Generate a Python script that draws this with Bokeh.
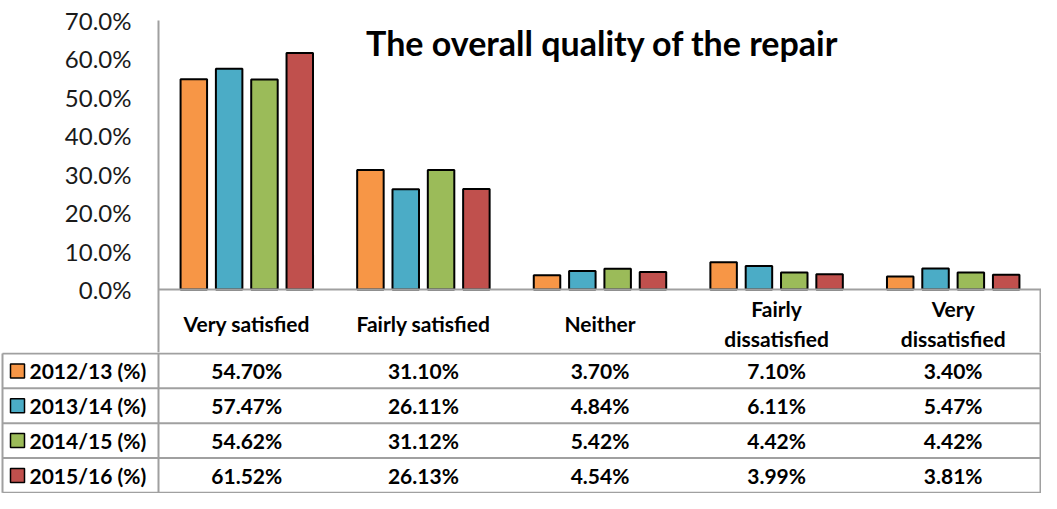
from bokeh.plotting import figure
from bokeh.models import ColumnDataSource, Range1d, FactorRange, FixedTicker, NumeralTickFormatter, Span, Label
from bokeh.transform import dodge
from bokeh.layouts import column
from bokeh.core.properties import value
from bokeh.embed import file_html
from bokeh.resources import INLINE

# ---------------- data ----------------
categories = ["Very satisfied", "Fairly satisfied", "Neither", "Fairly dissatisfied", "Very dissatisfied"]
header_labels = ["Very satisfied", "Fairly satisfied", "Neither", "Fairly\ndissatisfied", "Very\ndissatisfied"]
series_names = ["2012/13 (%)", "2013/14 (%)", "2014/15 (%)", "2015/16 (%)"]
colors = ["#F79646", "#4BACC6", "#9BBB59", "#C0504D"]
y2012 = [54.70, 31.10, 3.70, 7.10, 3.40]
y2013 = [57.47, 26.11, 4.84, 6.11, 5.47]
y2014 = [54.62, 31.12, 5.42, 4.42, 4.42]
y2015 = [61.52, 26.13, 4.54, 3.99, 3.81]
series_values = [y2012, y2013, y2014, y2015]
y_ticks = [0.0, 0.1, 0.2, 0.3, 0.4, 0.5, 0.6, 0.7]
title_text = "The overall quality of the repair"

FONT = "Lato"
GRID = "#a0a0a0"
W = 1041
LEFT = 158
TOP = 20
ZERO_PX = 289          # canvas y of the 0 line
HA = 352               # chart figure height (includes header row)
HB = 493 - HA          # table figure height
n = len(categories)
unit_px = (W - LEFT) / n
ppu = (ZERO_PX - TOP) / 0.7     # pixels per unit of y
y_bottom = -(HA - ZERO_PX) / ppu

# ---------------- chart (with header row) ----------------
pA = figure(width=W, height=HA, x_range=FactorRange(factors=categories),
            y_range=Range1d(y_bottom, 0.7), output_backend="svg", toolbar_location=None,
            x_axis_location=None, min_border_left=LEFT, min_border_right=0,
            min_border_top=TOP, min_border_bottom=0)
pA.outline_line_color = None
pA.xgrid.grid_line_color = None
pA.ygrid.grid_line_color = None

ya = pA.yaxis[0]
ya.ticker = FixedTicker(ticks=y_ticks)
ya.formatter = NumeralTickFormatter(format="0.0%")
ya.axis_line_color = GRID
ya.axis_line_width = 2
ya.major_tick_line_color = None
ya.minor_tick_line_color = None
ya.major_tick_out = 0
ya.major_tick_in = 0
ya.major_label_standoff = 27
ya.major_label_text_font = FONT
ya.major_label_text_font_size = "24px"
ya.major_label_text_color = "#1a1a1a"

src = ColumnDataSource(dict(cat=categories,
                            s0=[v / 100 for v in y2012], s1=[v / 100 for v in y2013],
                            s2=[v / 100 for v in y2014], s3=[v / 100 for v in y2015]))
offsets = [-0.3, -0.1, 0.1, 0.3]
for i in range(4):
    pA.vbar(x=dodge("cat", offsets[i], range=pA.x_range), top="s%d" % i, bottom=0,
            width=0.15, source=src, fill_color=colors[i], line_color="black", line_width=2)

pA.add_layout(Span(location=0, dimension="width", line_color=GRID, line_width=2))
# right border of the header row
pA.segment(x0=[n - 1.0 / unit_px], y0=[0], x1=[n - 1.0 / unit_px], y1=[y_bottom], line_color=GRID, line_width=2)
pA.add_layout(Label(x=(602 - LEFT) / unit_px, y=0.7 - (42 - TOP) / ppu, text=title_text,
                    text_align="center", text_baseline="middle", text_font=FONT,
                    text_font_style="bold", text_font_size="34px", text_color="black"))
# header labels (category names)
pA.text(x=categories, y=[-(323 - ZERO_PX) / ppu] * n, text=header_labels, text_align="center",
        text_baseline="middle", text_font=value(FONT), text_font_style="bold",
        text_font_size="21px", text_color="black", text_line_height=1.2)

# ---------------- data table ----------------
left_u = LEFT / unit_px
pB = figure(width=W, height=HB, x_range=Range1d(-left_u, n),
            y_range=Range1d(-4.02, 0.03), output_backend="svg", toolbar_location=None,
            x_axis_location=None, y_axis_location=None, min_border=0)
pB.outline_line_color = None
pB.xgrid.grid_line_color = None
pB.ygrid.grid_line_color = None
for fig in (pA, pB):
    if "frame_align" in fig.properties():
        fig.frame_align = False

hy = [0, -1, -2, -3, -4]
pB.segment(x0=[-left_u + 2 / unit_px] * 5, y0=hy, x1=[n] * 5, y1=hy, line_color=GRID, line_width=2)
pB.segment(x0=[-left_u + 2 / unit_px, 0, n - 1.0 / unit_px], y0=[0, 0.03, 0.03],
           x1=[-left_u + 2 / unit_px, 0, n - 1.0 / unit_px], y1=[-4, -4.02, -4.02],
           line_color=GRID, line_width=2)

for r, (name, vals, c) in enumerate(zip(series_names, series_values, colors)):
    yc = -r - 0.5
    pB.scatter(x=[-left_u + 17 / unit_px], y=[yc], marker="square", size=14,
               fill_color=c, line_color="black", line_width=1.5)
    pB.text(x=[-left_u + 29 / unit_px], y=[yc], text=[name], text_align="left",
            text_baseline="middle", text_font=value(FONT), text_font_style="bold",
            text_font_size="21px", text_color="black")
    pB.text(x=[i + 0.5 for i in range(n)], y=[yc] * n, text=["%.2f%%" % v for v in vals],
            text_align="center", text_baseline="middle", text_font=value(FONT),
            text_font_style="bold", text_font_size="21px", text_color="black")

layout = column(pA, pB, spacing=0)
open("out.html", "w").write(file_html(layout, INLINE))
